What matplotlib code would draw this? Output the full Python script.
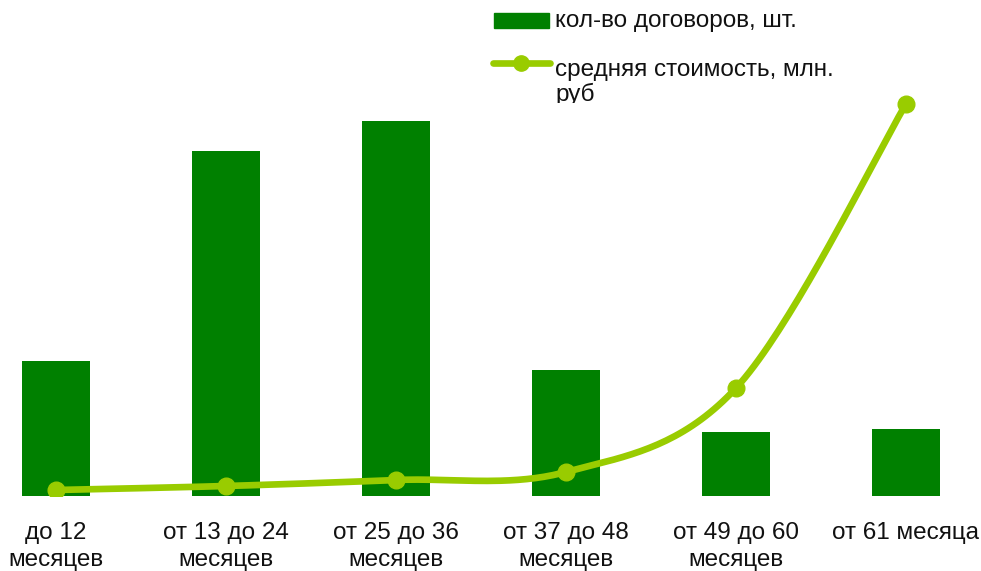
import numpy as np
import matplotlib.pyplot as plt
from matplotlib.patches import Rectangle
from matplotlib.lines import Line2D

plt.rcParams['font.family'] = ['Liberation Sans', 'DejaVu Sans']

# данные
categories = ['до 12\nмесяцев', 'от 13 до 24\nмесяцев', 'от 25 до 36\nмесяцев',
              'от 37 до 48\nмесяцев', 'от 49 до 60\nмесяцев', 'от 61 месяца']
contracts = [135, 345, 375, 126, 64, 67]          # кол-во договоров, шт.
avg_cost = [0.6, 1.0, 1.6, 2.4, 10.8, 39.2]        # средняя стоимость, млн. руб

bar_color = '#008000'
line_color = '#99cc00'


def smooth(xs, ys, n=40):
    # сглаживание как в Excel (кривые Безье, Catmull-Rom)
    pts = np.column_stack([xs, ys]).astype(float)
    out = []
    for i in range(len(pts) - 1):
        p0 = pts[i - 1] if i > 0 else pts[i]
        p1, p2 = pts[i], pts[i + 1]
        p3 = pts[i + 2] if i + 2 < len(pts) else pts[i + 1]
        c1 = p1 + (p2 - p0) / 6
        c2 = p2 - (p3 - p1) / 6
        t = np.linspace(0, 1, n)[:, None]
        seg = ((1 - t) ** 3) * p1 + 3 * ((1 - t) ** 2) * t * c1 \
            + 3 * (1 - t) * t ** 2 * c2 + t ** 3 * p2
        out.append(seg)
    out = np.vstack(out)
    return out[:, 0], out[:, 1]


W, H = 981, 571
fig = plt.figure(figsize=(W / 100, H / 100), dpi=100)
base = 496
ax = fig.add_axes([0, (H - base) / H, 1, base / H])

x = np.arange(len(categories))
ax.bar(x, contracts, width=0.4, color=bar_color, zorder=1)
ax.set_xlim(-56 / 170, (W - 56) / 170)
ax.set_ylim(0, 496)
ax.set_xticks(x)
ax.set_xticklabels(categories, fontsize=17.5, linespacing=1.32, color='#111111')
ax.tick_params(axis='x', length=0, pad=18.5)
ax.set_yticks([])
for s in ax.spines.values():
    s.set_visible(False)

ax2 = ax.twinx()
ax2.set_ylim(0, 49.6)
sx, sy = smooth(x, avg_cost)
ax2.plot(sx, sy, color=line_color, lw=4.8, solid_capstyle='round', zorder=3)
ax2.plot(x, avg_cost, 'o', color=line_color, ms=12, zorder=4)
ax2.set_yticks([])
for s in ax2.spines.values():
    s.set_visible(False)

# легенда (обрезана снизу, как в оригинале)
lax = fig.add_axes([480 / W, (H - 103) / H, 501 / W, 103 / H])
lax.set_xlim(480, 981)
lax.set_ylim(103, 0)
lax.axis('off')
lax.add_patch(Rectangle((494, 13), 55, 15, color=bar_color))
lax.add_line(Line2D([493, 550], [63, 63], color=line_color, lw=4.8,
                    solid_capstyle='round'))
lax.add_line(Line2D([521], [63], marker='o', color=line_color, ms=11))
lax.text(555, 21, 'кол-во договоров, шт.', fontsize=17.5, va='center',
         color='#111111', clip_on=True)
lax.text(555, 59, 'средняя стоимость, млн.\nруб', fontsize=17.5, va='top',
         linespacing=1.12, color='#111111', clip_on=True)

fig.savefig('out.png', dpi=100)
